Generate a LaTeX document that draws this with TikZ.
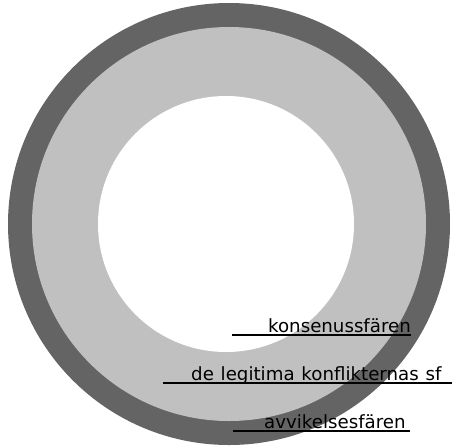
\documentclass[tikz,border=0pt]{standalone}
\usepackage{fontspec}
\setmainfont{DejaVu Sans}
\definecolor{darkring}{HTML}{646464}
\definecolor{lightring}{HTML}{C0C0C0}
\begin{document}
\begin{tikzpicture}[x=1pt,y=-1pt,
  lbl/.style={anchor=base west,inner sep=0pt,font=\fontsize{18.2}{21}\selectfont,text=black},
  uline/.style={line width=2pt,draw=black}]
\useasboundingbox (0,0) rectangle (452,445);
\clip (0,0) rectangle (452,445);
\fill[white] (0,0) rectangle (452,445);
\fill[darkring] (229,224) circle[radius=221];
\fill[lightring] (229,224) circle[radius=197];
\fill[white] (226,224) circle[radius=128];
\node[lbl] (kons) at (268,332) {konsenussfären};
\draw[uline] (232,334.5) -- (411,334.5);
\node[lbl] (legit) at (191,380) {\spaceskip=6.8pt de legitima konflikternas sf};
\draw[uline] (163,382.5) -- (452,382.5);
\node[lbl] (avvik) at (264,428) {avvikelsesfären};
\draw[uline] (233,430.5) -- (410,430.5);
\end{tikzpicture}
\end{document}
